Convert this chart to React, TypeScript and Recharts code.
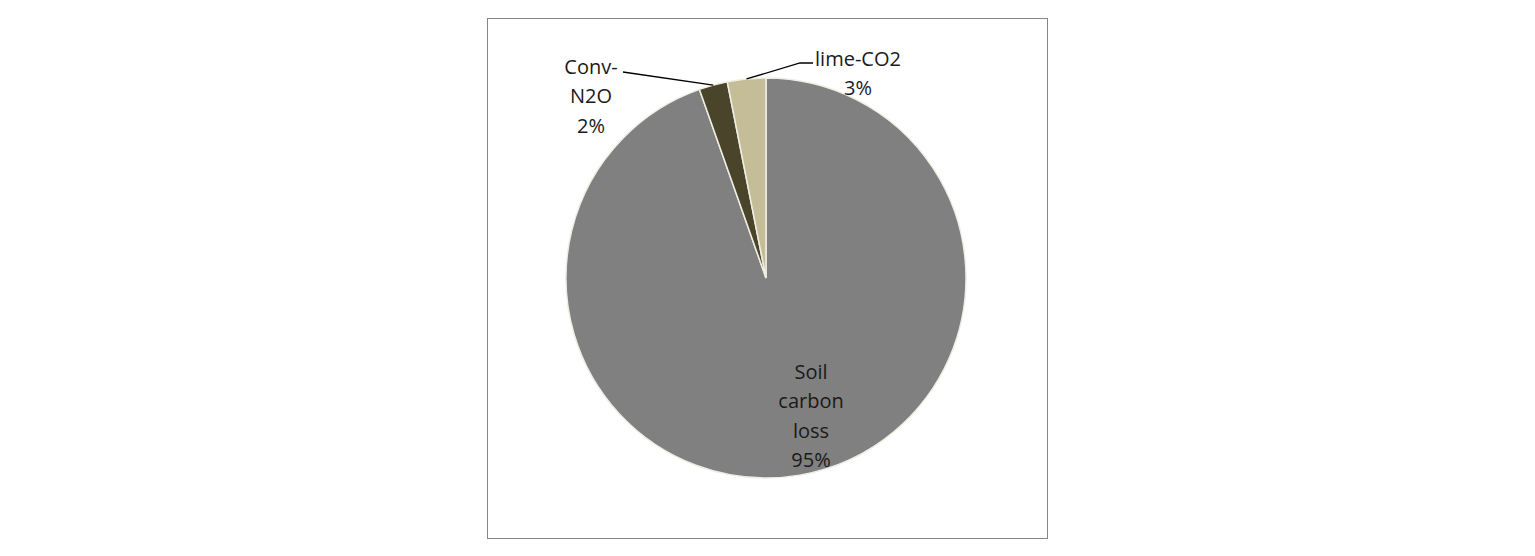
import { Cell, Pie, PieChart } from "recharts";

const categories = ["Soil carbon loss", "Conv-N2O", "lime-CO2"];
const labelLines = [["Soil", "carbon", "loss"], ["Conv-", "N2O"], ["lime-CO2"]];
const shares = [94.6, 2.3, 3.1];
const colors = ["#808080", "#4A452A", "#C4BD97"];

const data = categories.map((name, i) => ({ name, value: shares[i] }));

const RAD = Math.PI / 180;
const FONT = "'Open Sans', 'Noto Sans', sans-serif";
const LINE_H = 29.5;

// label anchor offsets in units of outer radius, relative to the pie centre
const labelPos = [
  { x: 0.225, y: 0.465 },
  { x: -0.875, y: -1.06, end: { x: -0.715, y: -1.03 } },
  { x: 0.46, y: -1.1, elbow: { x: 0.17, y: -1.075 }, end: { x: 0.235, y: -1.075 } },
];

function renderLabel(props: any) {
  const { cx, cy, midAngle, outerRadius: r, percent, index } = props;
  const pos = labelPos[index];
  const tx = cx + pos.x * r;
  const ty = cy + pos.y * r;
  const lines = [...labelLines[index], `${Math.round(percent * 100)}%`];
  const sx = cx + r * Math.cos(-midAngle * RAD);
  const sy = cy + r * Math.sin(-midAngle * RAD);
  let path = "";
  if (pos.end) {
    path = `M${sx},${sy}`;
    if (pos.elbow) path += ` L${cx + pos.elbow.x * r},${cy + pos.elbow.y * r}`;
    path += ` L${cx + pos.end.x * r},${cy + pos.end.y * r}`;
  }
  return (
    <g key={`lbl-${index}`}>
      {path && <path d={path} stroke="#000" strokeWidth={1.3} fill="none" />}
      <text x={tx} y={ty} textAnchor="middle" fill="#1a1a1a" fontSize={20} fontFamily={FONT}>
        {lines.map((t, i) => (
          <tspan key={i} x={tx} y={ty + i * LINE_H} dominantBaseline="central">
            {t}
          </tspan>
        ))}
      </text>
    </g>
  );
}

export default function App() {
  return (
    <div style={{ position: "absolute", left: 0, top: 0, width: 1535, height: 556, background: "#fff" }}>
      <div
        style={{
          position: "absolute",
          left: 487,
          top: 18,
          width: 561,
          height: 521,
          boxSizing: "border-box",
          border: "1.5px solid #868686",
        }}
      />
      <PieChart
        width={1535}
        height={556}
        margin={{ top: 0, right: 0, bottom: 0, left: 0 }}
        style={{ position: "absolute", left: 0, top: 0 }}
      >
        <Pie
          data={data}
          dataKey="value"
          nameKey="name"
          cx={766}
          cy={278}
          outerRadius={200}
          startAngle={90}
          endAngle={-270}
          stroke="#F0EEE4"
          strokeWidth={1.5}
          label={renderLabel}
          labelLine={false}
          isAnimationActive={false}
        >
          {data.map((d, i) => (
            <Cell key={d.name} fill={colors[i]} />
          ))}
        </Pie>
      </PieChart>
    </div>
  );
}
